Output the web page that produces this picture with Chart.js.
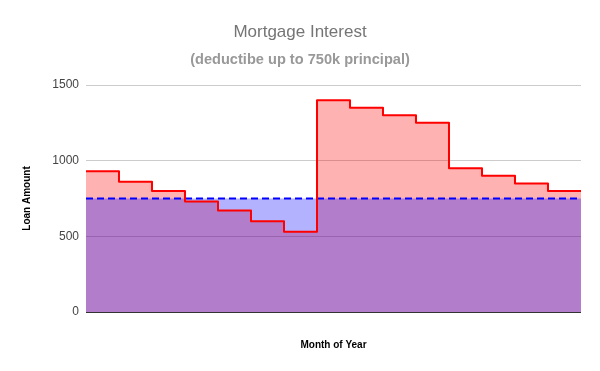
<!DOCTYPE html>
<html>
<head>
<meta charset="utf-8">
<script src="https://cdn.jsdelivr.net/npm/chart.js@4/dist/chart.umd.min.js"></script>
<style>
html,body{margin:0;padding:0;background:#fff;}
#wrap{width:600px;height:371px;position:relative;}
</style>
</head>
<body>
<div id="wrap"><canvas id="c" width="600" height="371"></canvas></div>
<script>
// Data
const months = [1, 2, 3, 4, 5, 6, 7, 8, 9, 10, 11, 12, 13, 14, 15];
const loanAmount = [930, 860, 800, 730, 670, 600, 530, 1400, 1350, 1300, 1250, 950, 900, 850, 800];
const deductibleLimit = [750, 750, 750, 750, 750, 750, 750, 750, 750, 750, 750, 750, 750, 750, 750];
const yTicks = [0, 500, 1000, 1500];

// each month occupies one full band: add a closing point at the end of the last band
function toSteps(vals) {
  const pts = vals.map((v, i) => ({x: months[i] - 1, y: v}));
  pts.push({x: months[months.length - 1], y: vals[vals.length - 1]});
  return pts;
}

const ctx = document.getElementById('c').getContext('2d');
new Chart(ctx, {
  type: 'line',
  data: {
    datasets: [
      { // blue fill (drawn above red fill)
        label: 'limit-fill',
        data: toSteps(deductibleLimit),
        stepped: true,
        borderWidth: 0,
        borderColor: 'rgba(0,0,0,0)',
        backgroundColor: 'rgba(0,0,255,0.3)',
        fill: 'origin',
        pointRadius: 0
      },
      {
        label: 'Loan Amount',
        data: toSteps(loanAmount),
        stepped: true,
        borderWidth: 2,
        borderColor: '#ff0000',
        borderJoinStyle: 'round',
        backgroundColor: 'rgba(255,0,0,0.3)',
        fill: 'origin',
        pointRadius: 0
      },
      {
        label: 'Deductible limit',
        data: toSteps(deductibleLimit),
        stepped: true,
        borderWidth: 2,
        borderColor: '#0000ff',
        borderDash: [7, 4],
        fill: false,
        pointRadius: 0
      }
    ]
  },
  options: {
    responsive: false,
    animation: false,
    layout: {padding: 0},
    plugins: {
      legend: {display: false},
      tooltip: {enabled: false},
      filler: {drawTime: 'beforeDatasetsDraw'},
      title: {
        display: true,
        text: 'Mortgage Interest',
        color: '#757575',
        font: {family: 'Arial, "Liberation Sans", sans-serif', size: 17, weight: 'normal'},
        padding: {top: 22.5, bottom: 0}
      },
      subtitle: {
        display: true,
        text: '(deductibe up to 750k principal)',
        color: '#999999',
        font: {family: 'Arial, "Liberation Sans", sans-serif', size: 14.6, weight: 'bold'},
        padding: {top: 8.3, bottom: 16.3}
      }
    },
    scales: {
      x: {
        type: 'linear',
        min: 0,
        max: months.length,
        ticks: {display: false},
        grid: {display: false, drawTicks: false},
        border: {display: false},
        title: {
          display: true,
          text: 'Month of Year',
          color: '#000',
          font: {family: 'Arial, "Liberation Sans", sans-serif', size: 10, weight: 'bold'},
          padding: {top: 4, bottom: 20}
        },
        afterFit: s => { s.height = 59; }
      },
      y: {
        min: 0,
        max: 1500,
        afterBuildTicks: s => { s.ticks = yTicks.map(v => ({value: v})); },
        ticks: {
          color: '#444',
          padding: 7,
          font: {family: 'Arial, "Liberation Sans", sans-serif', size: 12},
          callback: v => String(v)
        },
        grid: {
          drawTicks: false,
          color: c => c.tick && c.tick.value === 0 ? '#333333' : '#cccccc',
          lineWidth: 1
        },
        border: {display: false},
        title: {
          display: true,
          text: 'Loan Amount',
          color: '#000',
          font: {family: 'Arial, "Liberation Sans", sans-serif', size: 10, weight: 'bold'},
          padding: {top: 21, bottom: 0}
        },
        afterFit: s => { s.width = 86; }
      },
      yRight: {
        position: 'right',
        display: true,
        min: 0,
        max: 1500,
        ticks: {display: false},
        grid: {display: false, drawTicks: false},
        border: {display: false},
        afterFit: s => { s.width = 19; }
      }
    }
  }
});
</script>
</body>
</html>
